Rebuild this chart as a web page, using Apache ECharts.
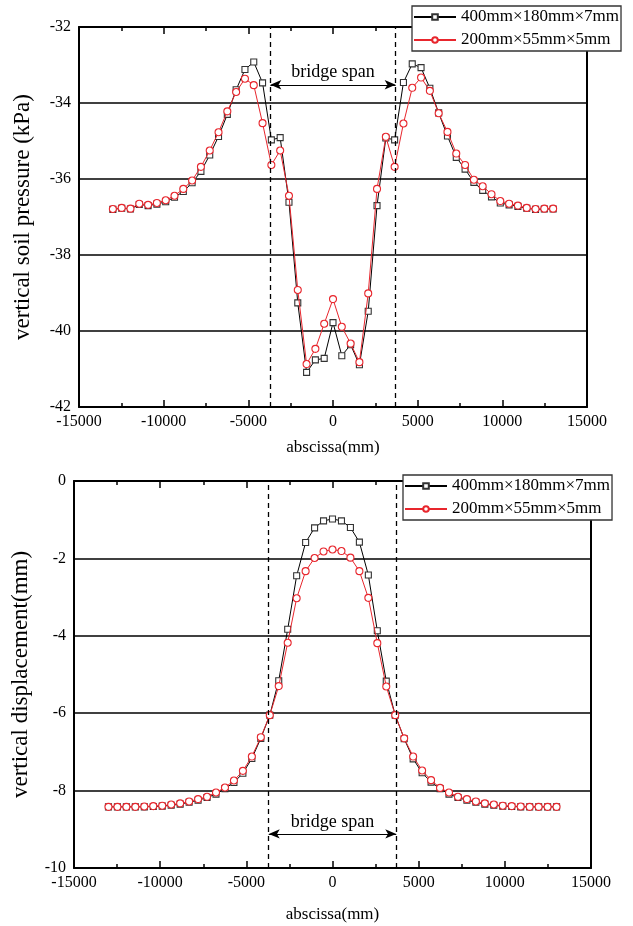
<!DOCTYPE html>
<html>
<head>
<meta charset="utf-8">
<script src="https://cdn.jsdelivr.net/npm/echarts@6/dist/echarts.min.js"></script>
<style>
html,body{margin:0;padding:0;background:#fff;}
#c{width:633px;height:926px;}
</style>
</head>
<body>
<div id="c"></div>
<script>
// ---- data ----
const abscissa = [-13000,-12480,-11960,-11440,-10920,-10400,-9880,-9360,-8840,-8320,-7800,-7280,-6760,-6240,-5720,-5200,-4680,-4160,-3640,-3120,-2600,-2080,-1560,-1040,-520,0,520,1040,1560,2080,2600,3120,3640,4160,4680,5200,5720,6240,6760,7280,7800,8320,8840,9360,9880,10400,10920,11440,11960,12480,13000];

const pressureBig = [-36.80,-36.77,-36.79,-36.67,-36.70,-36.66,-36.60,-36.48,-36.33,-36.10,-35.80,-35.37,-34.88,-34.30,-33.65,-33.12,-32.92,-33.47,-34.97,-34.91,-36.61,-39.26,-41.09,-40.76,-40.72,-39.78,-40.65,-40.36,-40.89,-39.48,-36.70,-34.92,-34.97,-33.46,-32.97,-33.07,-33.61,-34.26,-34.87,-35.43,-35.74,-36.09,-36.30,-36.47,-36.63,-36.68,-36.72,-36.77,-36.80,-36.79,-36.79];
const pressureSmall = [-36.79,-36.76,-36.78,-36.65,-36.68,-36.63,-36.56,-36.44,-36.26,-36.04,-35.68,-35.25,-34.77,-34.22,-33.71,-33.36,-33.53,-34.53,-35.63,-35.25,-36.44,-38.92,-40.87,-40.47,-39.81,-39.16,-39.89,-40.33,-40.82,-39.01,-36.26,-34.89,-35.68,-34.54,-33.60,-33.33,-33.68,-34.27,-34.76,-35.33,-35.63,-36.02,-36.19,-36.40,-36.58,-36.65,-36.70,-36.76,-36.79,-36.78,-36.78];

const dispBig = [-8.42,-8.42,-8.42,-8.42,-8.42,-8.41,-8.40,-8.38,-8.35,-8.30,-8.25,-8.18,-8.09,-7.95,-7.79,-7.55,-7.17,-6.65,-6.05,-5.16,-3.83,-2.45,-1.59,-1.21,-1.03,-0.98,-1.03,-1.20,-1.58,-2.43,-3.87,-5.17,-6.05,-6.66,-7.18,-7.54,-7.78,-7.95,-8.09,-8.18,-8.25,-8.30,-8.35,-8.38,-8.40,-8.41,-8.42,-8.42,-8.42,-8.42,-8.42];
const dispSmall = [-8.42,-8.42,-8.42,-8.42,-8.41,-8.40,-8.39,-8.36,-8.33,-8.28,-8.22,-8.16,-8.05,-7.92,-7.74,-7.49,-7.12,-6.62,-6.05,-5.30,-4.18,-3.03,-2.33,-1.99,-1.82,-1.77,-1.81,-1.98,-2.33,-3.02,-4.19,-5.31,-6.05,-6.65,-7.12,-7.48,-7.73,-7.93,-8.05,-8.16,-8.22,-8.28,-8.33,-8.36,-8.39,-8.40,-8.41,-8.42,-8.42,-8.42,-8.42];

const seriesNames = ['400mm×180mm×7mm','200mm×55mm×5mm'];
const spanEdges = [-3700, 3700];
const spanArrowTop = -33.52;
const spanArrowBottom = -9.12;
const xTitle = 'abscissa(mm)';
const yTitleTop = 'vertical soil pressure (kPa)';
const yTitleBottom = 'vertical displacement(mm)';
const spanLabel = 'bridge span';

// ---- chart ----
const FONT = '"Liberation Serif","Times New Roman",serif';
const RED = '#e8262d';
const pair = (xs, ys) => xs.map((x, i) => [x, ys[i]]);
const plain = v => String(v);

function xAxes(gridIndex, gap) {
  return [{
    gridIndex, type: 'value', position: 'bottom', min: -15000, max: 15000, interval: 5000,
    axisLine: {show: true, onZero: false, lineStyle: {color: '#000', width: 2}},
    axisTick: {show: true, inside: true, length: 7, lineStyle: {color: '#000', width: 1.5}},
    minorTick: {show: true, splitNumber: 2, length: 4, lineStyle: {color: '#000', width: 1.5}},
    axisLabel: {color: '#000', fontFamily: FONT, fontSize: 16, margin: 7, formatter: plain},
    splitLine: {show: false},
    name: xTitle, nameLocation: 'middle', nameGap: gap,
    nameTextStyle: {color: '#000', fontFamily: FONT, fontSize: 17}
  }, {
    gridIndex, type: 'value', position: 'top', min: -15000, max: 15000, interval: 5000,
    axisLine: {show: true, onZero: false, lineStyle: {color: '#000', width: 2}},
    axisTick: {show: true, inside: true, length: 7, lineStyle: {color: '#000', width: 1.5}},
    minorTick: {show: true, splitNumber: 2, length: 4, lineStyle: {color: '#000', width: 1.5}},
    axisLabel: {show: false}, splitLine: {show: false}
  }];
}
function yAxes(gridIndex, min, max, title, gap) {
  return [{
    gridIndex, type: 'value', position: 'left', min, max, interval: 2,
    axisLine: {show: true, onZero: false, lineStyle: {color: '#000', width: 2}},
    axisTick: {show: false},
    axisLabel: {color: '#000', fontFamily: FONT, fontSize: 16, margin: 8, formatter: plain},
    splitLine: {show: true, lineStyle: {color: '#000', width: 1.5}},
    name: title, nameLocation: 'middle', nameGap: gap, nameRotate: 90,
    nameTextStyle: {color: '#000', fontFamily: FONT, fontSize: 23}
  }, {
    gridIndex, type: 'value', position: 'right', min, max, interval: 2,
    axisLine: {show: true, onZero: false, lineStyle: {color: '#000', width: 2}},
    axisTick: {show: false}, axisLabel: {show: false}, splitLine: {show: false}
  }];
}

function dashLines() {
  return {
    silent: true, symbol: ['none', 'none'], label: {show: false},
    lineStyle: {color: '#000', type: [5, 4], width: 1.3},
    data: spanEdges.map(v => ({xAxis: v}))
  };
}
function arrowLine(yv) {
  return {
    silent: true, symbol: ['arrow', 'arrow'], symbolSize: [7, 11],
    lineStyle: {color: '#000', type: 'solid', width: 1.2},
    label: {show: true, position: 'insideMiddleTop', formatter: spanLabel, color: '#000',
            fontFamily: FONT, fontSize: 18, distance: 3},
    data: [[{coord: [spanEdges[0], yv]}, {coord: [spanEdges[1], yv]}]]
  };
}

function blackSeries(xi, yi, data, ml) {
  return {
    name: seriesNames[0], type: 'line', xAxisIndex: xi, yAxisIndex: yi, data,
    symbol: 'rect', symbolSize: 6, showAllSymbol: true,
    lineStyle: {color: '#000', width: 1},
    itemStyle: {color: '#fff', borderColor: '#333', borderWidth: 1.1},
    z: 3, animation: false, markLine: ml
  };
}
function redSeries(xi, yi, data, ml) {
  return {
    name: seriesNames[1], type: 'line', xAxisIndex: xi, yAxisIndex: yi, data,
    symbol: 'circle', symbolSize: 7, showAllSymbol: true,
    lineStyle: {color: RED, width: 1},
    itemStyle: {color: '#fff', borderColor: RED, borderWidth: 1.1},
    z: 4, animation: false, markLine: ml
  };
}

function legendAt(left, top) {
  return {
    orient: 'vertical', left, top, data: seriesNames,
    backgroundColor: '#fff', borderColor: '#333', borderWidth: 1.3,
    padding: [2, 2, 2, 1], itemGap: 5, itemWidth: 42, itemHeight: 7,
    textStyle: {color: '#000', fontFamily: FONT, fontSize: 17, lineHeight: 18},
    selectedMode: false, z: 10
  };
}

const chart = echarts.init(document.getElementById('c'), null, {renderer: 'canvas'});
chart.setOption({
  backgroundColor: '#fff',
  animation: false,
  textStyle: {fontFamily: FONT},
  grid: [
    {left: 79, right: 46, top: 27, height: 380},
    {left: 74, right: 42, top: 481, height: 387}
  ],
  legend: [legendAt(412, 6), legendAt(403, 475)],
  xAxis: [...xAxes(0, 32), ...xAxes(1, 38)],
  yAxis: [...yAxes(0, -42, -32, yTitleTop, 45), ...yAxes(1, -10, 0, yTitleBottom, 42)],
  series: [
    blackSeries(0, 0, pair(abscissa, pressureBig), dashLines()),
    redSeries(0, 0, pair(abscissa, pressureSmall), arrowLine(spanArrowTop)),
    blackSeries(2, 2, pair(abscissa, dispBig), dashLines()),
    redSeries(2, 2, pair(abscissa, dispSmall), arrowLine(spanArrowBottom))
  ]
});
</script>
</body>
</html>
